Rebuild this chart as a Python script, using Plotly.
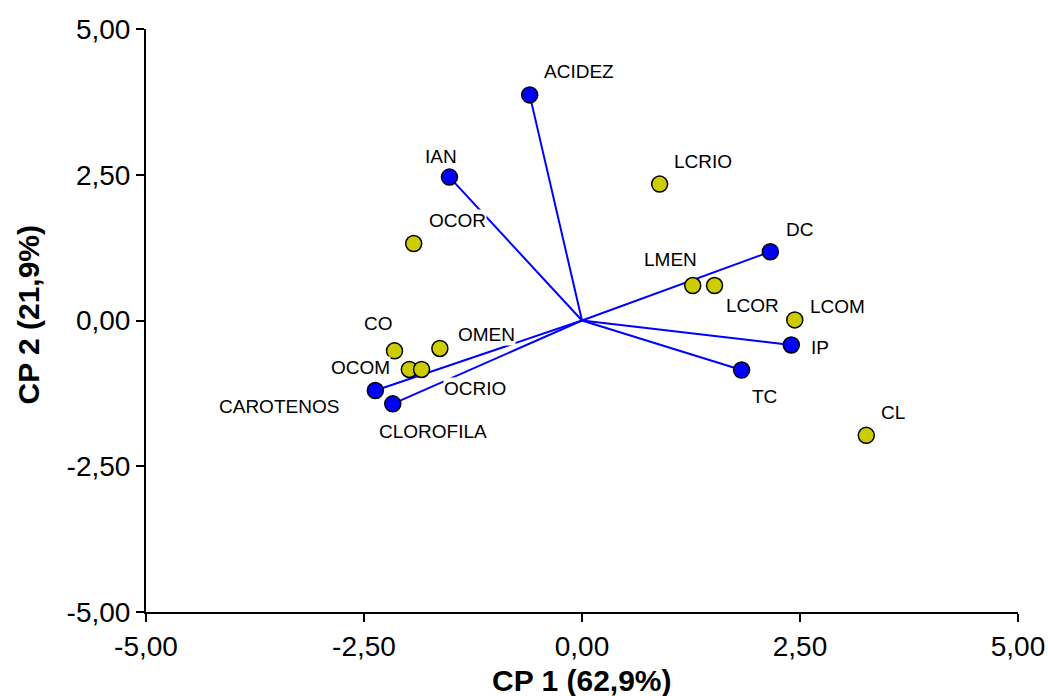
import plotly.graph_objects as go

# Variables (loadings, blue)
var_names = ["ACIDEZ", "IAN", "DC", "IP", "TC", "CAROTENOS", "CLOROFILA"]
var_x = [-0.60, -1.52, 2.16, 2.40, 1.83, -2.37, -2.17]
var_y = [3.87, 2.46, 1.18, -0.42, -0.85, -1.20, -1.43]

# Samples (scores, yellow)
obs_names = ["OCOR", "CO", "OMEN", "OCOM", "OCRIO", "LCRIO", "LMEN", "LCOR", "LCOM", "CL"]
obs_x = [-1.93, -2.15, -1.63, -1.98, -1.84, 0.89, 1.27, 1.52, 2.44, 3.26]
obs_y = [1.32, -0.52, -0.48, -0.84, -0.84, 2.34, 0.60, 0.60, 0.01, -1.97]

tick_vals = [-5, -2.5, 0, 2.5, 5]
tick_text = ["-5,00", "-2,50", "0,00", "2,50", "5,00"]

x_title = "CP 1 (62,9%)"
y_title = "CP 2 (21,9%)"

# label offsets in screen pixels (dx right, dy down)
var_off = {"ACIDEZ": (49, -23), "IAN": (-8, -21), "DC": (29, -22), "IP": (29, 3),
           "TC": (23, 26), "CAROTENOS": (-96, 16), "CLOROFILA": (40, 28)}
obs_off = {"OCOR": (44, -23), "CO": (-16, -27), "OMEN": (47, -14), "OCOM": (-49, -2),
           "OCRIO": (53, 19), "LCRIO": (43, -23), "LMEN": (-22, -26), "LCOR": (38, 20),
           "LCOM": (43, -13), "CL": (27, -23)}

FONT = "Liberation Sans, Arial, sans-serif"
fig = go.Figure()

for x, y in zip(var_x, var_y):
    fig.add_trace(go.Scatter(x=[0, x], y=[0, y], mode="lines",
                             line=dict(color="#0000FF", width=2), hoverinfo="skip",
                             showlegend=False))

fig.add_trace(go.Scatter(x=obs_x, y=obs_y, mode="markers", text=obs_names,
                         marker=dict(size=16, color="#CCCC00",
                                     line=dict(color="black", width=1.5)),
                         showlegend=False))
fig.add_trace(go.Scatter(x=var_x, y=var_y, mode="markers", text=var_names,
                         marker=dict(size=16, color="#0000FF",
                                     line=dict(color="black", width=1.5)),
                         showlegend=False))

annotations = []
for names, xs, ys, offs in [(var_names, var_x, var_y, var_off), (obs_names, obs_x, obs_y, obs_off)]:
    for n, x, y in zip(names, xs, ys):
        dx, dy = offs[n]
        annotations.append(dict(x=x, y=y, xref="x", yref="y", text=n, showarrow=False,
                                xshift=dx, yshift=-dy, bgcolor="white", borderpad=0,
                                font=dict(family=FONT, size=19, color="black")))

# axis titles
annotations.append(dict(x=0.5, y=0, xref="paper", yref="paper", yshift=-68,
                        xanchor="center", yanchor="middle",
                        text="<b>%s</b>" % x_title, showarrow=False,
                        font=dict(family=FONT, size=30, color="black")))
annotations.append(dict(x=0, y=0.5, xref="paper", yref="paper", xshift=-118, yshift=6,
                        xanchor="center", yanchor="middle",
                        text="<b>%s</b>" % y_title, showarrow=False, textangle=-90,
                        font=dict(family=FONT, size=30, color="black")))

axis_common = dict(range=[-5, 5], tickvals=tick_vals, ticktext=tick_text,
                   showgrid=False, zeroline=False, showline=True, linecolor="black",
                   linewidth=2, ticks="outside", ticklen=8, tickwidth=2, tickcolor="black",
                   automargin=False,
                   tickfont=dict(family=FONT, size=28, color="black"))

fig.update_layout(
    width=1048, height=696,
    margin=dict(l=146, r=30, t=29, b=84),
    paper_bgcolor="white", plot_bgcolor="white",
    annotations=annotations,
    xaxis=axis_common,
    yaxis=axis_common,
)

fig.write_html("out.html", config={"displayModeBar": False},
               post_script="document.body.style.margin='0';document.body.style.overflow='hidden';")
